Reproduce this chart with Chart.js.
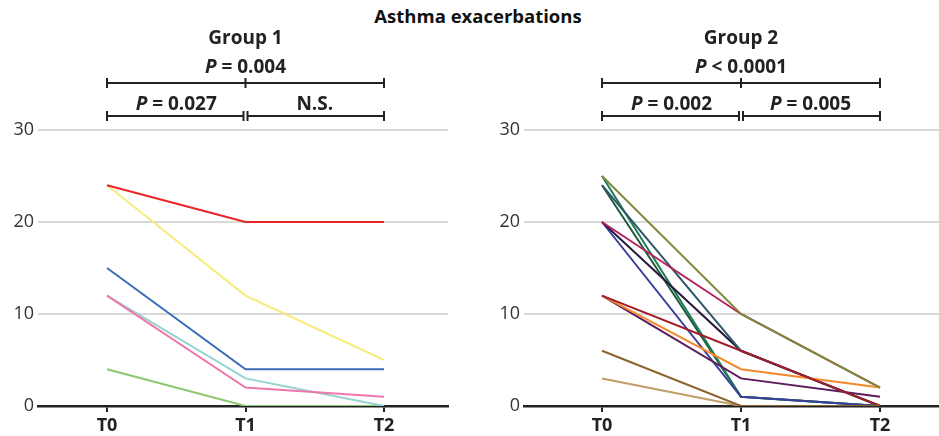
<!DOCTYPE html>
<html lang="en">
<head>
  <meta charset="UTF-8">
  <title>Asthma exacerbations</title>
  <script src="https://cdn.jsdelivr.net/npm/chart.js"></script>
  <style>
    body {
      margin: 0;
      background: #fff;
      font-family: "Open Sans", sans-serif;
    }
    #titulo {
      position: absolute;
      left: 328px;
      top: 3px;
      width: 300px;
      text-align: center;
      font-weight: bold;
      font-size: 18.5px;
      color: #111;
    }
    .panel {
      position: absolute;
      top: 0;
      height: 436px;
    }
    #izq { left: 0; width: 470px; }
    #der { left: 480px; width: 459px; }
  </style>
</head>
<body>

  <div id="titulo">Asthma exacerbations</div>
  <div class="panel" id="izq"><canvas id="grafico1"></canvas></div>
  <div class="panel" id="der"><canvas id="grafico2"></canvas></div>

  <script>
    const tiempos = ['T0', 'T1', 'T2'];
    const ticksY = [0, 10, 20, 30];

    // Group 1 (one array per patient: T0, T1, T2)
    const g1Rojo     = [24, 20, 20];
    const g1Rosa     = [12, 2, 1];
    const g1Cian     = [12, 3, 0];
    const g1Azul     = [15, 4, 4];
    const g1Amarillo = [24, 12, 5];
    const g1Verde    = [4, 0, 0];

    // Group 2
    const g2Oliva      = [25, 10, 2];
    const g2Marron     = [6, 0, 0];
    const g2Granate    = [12, 6, 0];
    const g2Naranja    = [12, 4, 2];
    const g2Morado     = [12, 3, 1];
    const g2Carmesi    = [20, 10, 2];
    const g2Pizarra    = [24, 6, 0];
    const g2Marino     = [20, 6, 0];
    const g2Azul       = [20, 1, 0];
    const g2Verde      = [25, 1, 0];
    const g2VerdeOsc   = [24, 1, 0];
    const g2Beige      = [3, 0, 0];

    const pValores1 = { total: '0.004', totalSigno: '=', a: '= 0.027', b: 'N.S.' };
    const pValores2 = { total: '0.0001', totalSigno: '<', a: '= 0.002', b: '= 0.005' };

    const fuente = '"Open Sans", sans-serif';
    const tamTexto = 19;

    function serie(valores, color) {
      return {
        data: valores.map((v, i) => ({ x: i, y: v })),
        borderColor: color,
        borderWidth: 2,
        pointRadius: 0,
        tension: 0,
        fill: false
      };
    }

    function textoP(ctx, resto, cx, y) {
      // "P" italic bold + rest bold, centered at cx
      const fItal = 'italic bold ' + tamTexto + 'px ' + fuente;
      const fNorm = 'bold ' + tamTexto + 'px ' + fuente;
      ctx.font = fItal;
      const wP = ctx.measureText('P').width;
      ctx.font = fNorm;
      const wR = ctx.measureText(' ' + resto).width;
      let x = cx - (wP + wR) / 2;
      ctx.textAlign = 'left';
      ctx.font = fItal;
      ctx.fillText('P', x, y);
      ctx.font = fNorm;
      ctx.fillText(' ' + resto, x + wP, y);
    }

    function etiqueta(ctx, texto, cx, y) {
      if (texto === 'N.S.') {
        ctx.font = 'bold ' + tamTexto + 'px ' + fuente;
        ctx.textAlign = 'center';
        ctx.fillText(texto, cx, y);
      } else {
        textoP(ctx, texto, cx, y);
      }
    }

    function pluginCorchetes(grupo, p) {
      return {
        id: 'corchetes',
        afterDraw(chart) {
          const ctx = chart.ctx;
          const sx = chart.scales.x;
          const x0 = sx.getPixelForValue(0);
          const x1 = sx.getPixelForValue(1);
          const x2 = sx.getPixelForValue(2);
          ctx.save();
          ctx.fillStyle = '#222';
          ctx.strokeStyle = '#222';
          ctx.lineWidth = 2;
          ctx.textBaseline = 'alphabetic';

          ctx.font = 'bold ' + tamTexto + 'px ' + fuente;
          ctx.textAlign = 'center';
          ctx.fillText(grupo, x1, 44);

          textoP(ctx, p.totalSigno + ' ' + p.total, x1, 73);

          // upper bracket
          const yA = 83;
          ctx.beginPath();
          ctx.moveTo(x0, yA); ctx.lineTo(x2, yA);
          [x0, x1, x2].forEach(x => { ctx.moveTo(x, yA - 5); ctx.lineTo(x, yA + 5); });
          ctx.stroke();

          // lower brackets
          const yB = 116;
          ctx.beginPath();
          ctx.moveTo(x0, yB); ctx.lineTo(x1 - 2, yB);
          ctx.moveTo(x1 + 2, yB); ctx.lineTo(x2, yB);
          [x0, x1 - 2, x1 + 2, x2].forEach(x => { ctx.moveTo(x, yB - 5); ctx.lineTo(x, yB + 5); });
          ctx.stroke();

          etiqueta(ctx, p.a, (x0 + x1) / 2, 110);
          etiqueta(ctx, p.b, (x1 + x2) / 2, 110);
          ctx.restore();
        }
      };
    }

    function crearGrafico(id, datasets, xMin, xMax, anchoY, padDer, grupo, p) {
      const ctx = document.getElementById(id).getContext('2d');
      return new Chart(ctx, {
        type: 'line',
        data: { datasets: datasets },
        plugins: [pluginCorchetes(grupo, p)],
        options: {
          responsive: true,
          maintainAspectRatio: false,
          animation: false,
          layout: { padding: { top: 130, right: padDer, bottom: 0, left: 0 } },
          plugins: {
            legend: { display: false },
            tooltip: { enabled: false }
          },
          scales: {
            x: {
              type: 'linear',
              min: xMin,
              max: xMax,
              afterBuildTicks: s => { s.ticks = tiempos.map((_, i) => ({ value: i })); },
              afterFit: s => { s.height = 30; },
              ticks: {
                callback: v => tiempos[v],
                font: { family: fuente, size: 18, weight: 'bold' },
                color: '#222',
                padding: 3
              },
              grid: {
                drawOnChartArea: false,
                drawTicks: true,
                tickLength: 6,
                color: '#222',
                lineWidth: 2
              },
              border: { display: true, color: '#222', width: 2.5 }
            },
            y: {
              min: 0,
              max: 30,
              afterBuildTicks: s => { s.ticks = ticksY.map(v => ({ value: v })); },
              afterFit: s => { s.width = anchoY; },
              ticks: {
                font: { family: fuente, size: 18 },
                color: '#333',
                padding: 4
              },
              grid: {
                drawTicks: false,
                color: '#d9d9d9',
                lineWidth: 2
              },
              border: { display: false }
            }
          }
        }
      });
    }

    const series1 = [
      serie(g1Rojo, '#ec2227'),
      serie(g1Rosa, '#ef78ab'),
      serie(g1Cian, '#94d3d1'),
      serie(g1Azul, '#3b6cb7'),
      serie(g1Amarillo, '#f6ec7a'),
      serie(g1Verde, '#8cc870')
    ];

    const series2 = [
      serie(g2Oliva, '#7f8a3a'),
      serie(g2Marron, '#8a6431'),
      serie(g2Granate, '#a11d2b'),
      serie(g2Naranja, '#f5892c'),
      serie(g2Morado, '#5c1b5c'),
      serie(g2Carmesi, '#b5215c'),
      serie(g2Pizarra, '#2c5868'),
      serie(g2Marino, '#2a1a3e'),
      serie(g2Azul, '#3a3e9c'),
      serie(g2Verde, '#1c7b52'),
      serie(g2VerdeOsc, '#1e5a40'),
      serie(g2Beige, '#c29d66')
    ];

    crearGrafico('grafico1', series1, -69 / 138.5, 2 + 64 / 138.5, 38, 22, 'Group 1', pValores1);
    crearGrafico('grafico2', series2, -78 / 139, 2 + 59 / 139, 44, 0, 'Group 2', pValores2);
  </script>

</body>
</html>
